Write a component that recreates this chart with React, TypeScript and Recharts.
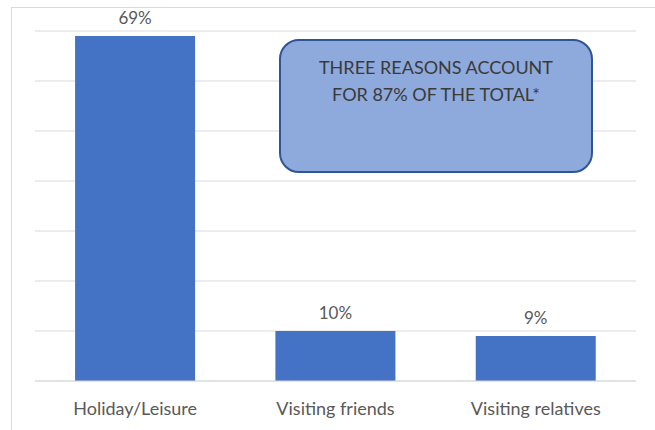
import React from 'react';
import { BarChart, Bar, XAxis, YAxis, CartesianGrid, LabelList } from 'recharts';

const reasons = ['Holiday/Leisure', 'Visiting friends', 'Visiting relatives'];
const shares = [69, 10, 9];
const yTicks = [0, 10, 20, 30, 40, 50, 60, 70];
const noteLines = ['THREE REASONS ACCOUNT', 'FOR 87% OF THE TOTAL*'];

const data = reasons.map((reason, i) => ({ reason, share: shares[i] }));

const font = 'Lato, "Open Sans", sans-serif';

export default function App() {
  return (
    <div style={{ position: 'absolute', left: 0, top: 0, width: 655, height: 430, background: '#fff', fontFamily: font }}>
      <div
        style={{
          position: 'absolute',
          left: 11,
          top: 7,
          width: 700,
          height: 500,
          border: '1px solid #d9d9d9',
          boxSizing: 'border-box',
        }}
      />
      <BarChart
        width={655}
        height={430}
        data={data}
        margin={{ top: 31, right: 19, left: 35, bottom: 19 }}
        barCategoryGap="20%"
        style={{ position: 'absolute', left: 0, top: 0 }}
      >
        <CartesianGrid vertical={false} stroke="#d9d9d9" strokeWidth={1} />
        <YAxis hide width={0} domain={[0, 70]} ticks={yTicks} />
        <XAxis
          dataKey="reason"
          height={30}
          axisLine={{ stroke: '#d9d9d9' }}
          tickLine={false}
          tickMargin={15}
          tick={{ fill: '#595959', fontSize: 18, fontFamily: font }}
        />
        <Bar dataKey="share" fill="#4472C4" isAnimationActive={false}>
          <LabelList
            dataKey="share"
            position="top"
            offset={12}
            formatter={(v: number) => `${v}%`}
            style={{ fill: '#595959', fontSize: 17, fontFamily: font }}
          />
        </Bar>
      </BarChart>
      <div
        style={{
          position: 'absolute',
          left: 279,
          top: 39,
          width: 314,
          height: 134,
          boxSizing: 'border-box',
          background: '#8EA9DB',
          border: '2px solid #2F5597',
          borderRadius: 20,
          color: '#3a3a3a',
          fontSize: 18,
          lineHeight: '27px',
          textAlign: 'center',
          paddingTop: 13,
        }}
      >
        {noteLines.map((l) => (
          <div key={l}>{l}</div>
        ))}
      </div>
    </div>
  );
}
